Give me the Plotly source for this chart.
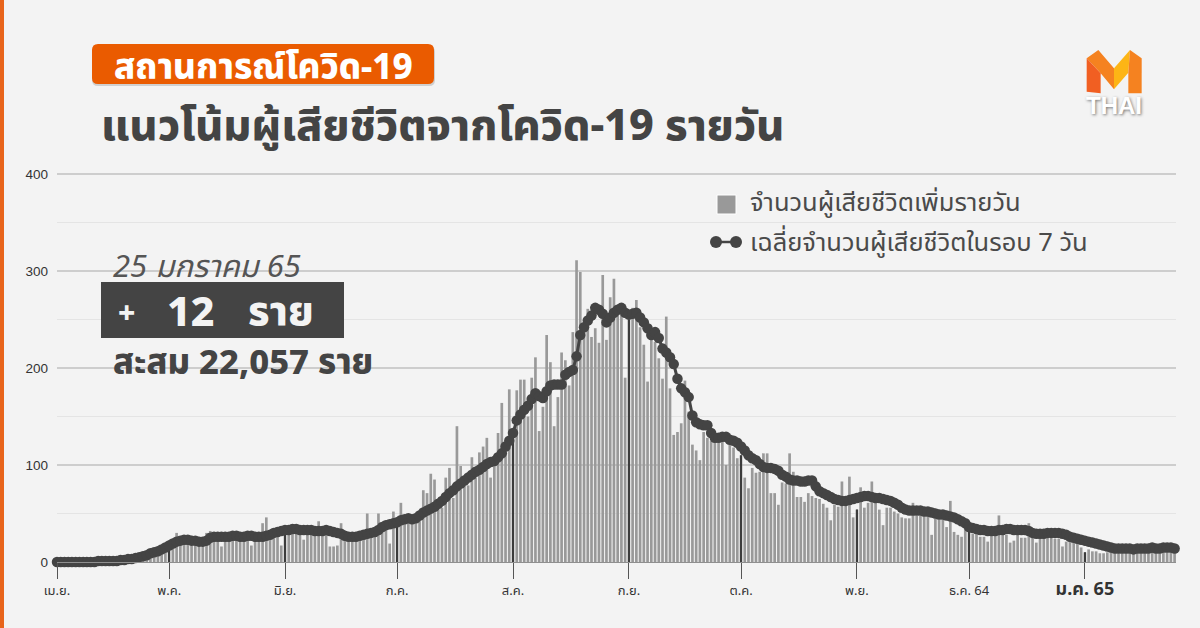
import pandas as pd
import plotly.graph_objects as go

start_date = "2021-04-01"
# daily deaths, month by month
deaths_apr = [0,0,0,0,0,0,1,0,0,0,1,1,0,0,1,1,1,2,1,3,4,3,5,6,8,7,11,10,15,12]
deaths_may = [22,18,30,20,21,25,27,26,22,19,30,32,24,25,16,28,27,31,26,26,25,27,17,25,26,40,46,28,29,26,17]
deaths_jun = [33,30,32,30,30,23,31,32,30,42,32,30,16,16,17,40,24,25,24,26,28,30,50,30,32,50,35,40,19,52]
deaths_jul = [41,61,45,45,44,46,47,74,71,91,85,62,56,87,97,66,140,99,79,79,108,87,113,119,128,87,105,133,164,115,178]
deaths_aug = [130,177,188,188,150,190,211,135,160,234,206,140,170,216,208,182,237,311,299,247,261,232,241,226,296,229,273,292,255,255,190]
deaths_sep = [250,262,270,242,224,186,234,227,210,189,253,179,131,134,143,187,155,121,115,105,134,128,125,124,124,125,100,121,118,107]
deaths_oct = [110,87,76,97,92,93,112,112,71,71,59,82,81,112,93,67,67,62,71,68,66,65,60,56,43,59,57,83,62,88,46]
deaths_nov = [54,77,56,61,83,62,54,38,56,56,52,50,46,45,45,61,48,48,48,48,28,45,44,44,36,63,31,28,26,34]
deaths_dec = [34,29,29,26,26,21,27,28,48,28,28,20,22,28,25,25,40,25,20,26,26,26,25,24,24,16,21,24,20,20,15]
deaths_jan = [10,13,11,11,9,9,10,12,11,13,14,15,16,13,14,13,15,17,14,13,15,16,14,15,12]

# 7-day average, month by month
avg_apr = [0,0,0,0,0,0,0,0,0,0,0,1,1,1,1,1,1,2,2,3,3,4,5,6,7,9,10,11,13,15]
avg_may = [17,19,21,22,23,23,22,22,21,21,22,25,26,26,26,26,26,27,27,26,26,27,27,26,26,26,27,28,30,31,32]
avg_jun = [33,33,34,34,33,33,33,33,32,32,32,33,32,31,30,29,27,26,26,26,27,28,29,30,31,33,36,38,39,40]
avg_jul = [41,43,44,45,44,45,48,51,53,55,57,60,63,67,71,74,78,81,84,87,90,93,95,98,101,103,104,108,112,119,125]
avg_aug = [133,146,152,157,161,168,174,171,169,176,182,183,183,183,193,196,198,212,234,242,249,254,262,260,256,247,252,257,260,262,257]
avg_sep = [255,256,257,252,247,241,234,237,231,220,216,211,204,189,179,175,170,151,144,142,141,141,133,128,128,129,129,126,125,123]
avg_oct = [119,115,110,107,105,101,98,97,97,96,94,90,88,85,84,84,83,83,84,84,78,73,71,69,67,65,64,63,63,64,65]
avg_nov = [66,67,68,68,67,66,66,65,64,63,61,59,56,54,53,53,53,53,52,52,51,50,49,49,48,47,46,44,42,40]
avg_dec = [36,35,34,33,33,32,32,32,33,33,34,34,33,33,33,33,32,30,29,29,29,30,30,30,30,29,28,26,25,24,23]
avg_jan = [22,21,20,19,18,17,16,15,14,14,14,14,14,13,14,14,14,14,15,14,14,15,15,15,14]

deaths = deaths_apr + deaths_may + deaths_jun + deaths_jul + deaths_aug + deaths_sep + deaths_oct + deaths_nov + deaths_dec + deaths_jan
avg7 = avg_apr + avg_may + avg_jun + avg_jul + avg_aug + avg_sep + avg_oct + avg_nov + avg_dec + avg_jan
dates = pd.date_range(start_date, periods=len(deaths), freq="D")
assert len(deaths) == 300 and len(avg7) == 300

month_starts = ["2021-04-01","2021-05-01","2021-06-01","2021-07-01","2021-08-01","2021-09-01","2021-10-01","2021-11-01","2021-12-01","2022-01-01"]
month_labels = ["เม.ย.","พ.ค.","มิ.ย.","ก.ค.","ส.ค.","ก.ย.","ต.ค.","พ.ย.","ธ.ค. 64","<b style='font-size:18px'>ม.ค. 65</b>"]
y_ticks = [0,100,200,300,400]

title_tag = "สถานการณ์โควิด-19"
title_main = "แนวโน้มผู้เสียชีวิตจากโควิด-19 รายวัน"
legend_bar = "จำนวนผู้เสียชีวิตเพิ่มรายวัน"
legend_line = "เฉลี่ยจำนวนผู้เสียชีวิตในรอบ 7 วัน"
date_label = "25 มกราคม 65"
cum_label = "สะสม 22,057 ราย"

W, H = 1200, 628
THAI = "Noto Sans, Noto Sans Thai, Loma, Garuda, sans-serif"
DARK = "#444444"
def X(x): return x / W
def Y(y): return 1 - y / H

ser = pd.Series(deaths, index=dates)
tick_bars = ser.loc[pd.to_datetime(month_starts)]

fig = go.Figure()
fig.add_bar(x=dates, y=deaths, marker=dict(color="#999999", line_width=0), width=62000000, name=legend_bar)
fig.add_bar(x=tick_bars.index, y=tick_bars.values, marker=dict(color="#3c3c3c", line_width=0), width=30000000, name="month")
fig.add_scatter(x=dates, y=avg7, mode="lines+markers", line=dict(color=DARK, width=3),
                marker=dict(color=DARK, size=10.5), cliponaxis=False, name=legend_line)

def poly(pts, color):
    path = "M " + " L ".join(f"{X(a)},{Y(b)}" for a, b in pts) + " Z"
    return dict(type="path", xref="paper", yref="paper", path=path, fillcolor=color, line_width=0, layer="above")

def rect(x0, y0, x1, y1, color, **kw):
    return dict(type="rect", xref="paper", yref="paper", x0=X(x0), x1=X(x1), y0=Y(y1), y1=Y(y0),
                fillcolor=color, line_width=kw.get("lw", 0), line_color=kw.get("lc", color), layer="above")

def rrect(x0, y0, x1, y1, r, color):
    path = (f"M {X(x0+r)},{Y(y0)} L {X(x1-r)},{Y(y0)} Q {X(x1)},{Y(y0)} {X(x1)},{Y(y0+r)} "
            f"L {X(x1)},{Y(y1-r)} Q {X(x1)},{Y(y1)} {X(x1-r)},{Y(y1)} L {X(x0+r)},{Y(y1)} "
            f"Q {X(x0)},{Y(y1)} {X(x0)},{Y(y1-r)} L {X(x0)},{Y(y0+r)} Q {X(x0)},{Y(y0)} {X(x0+r)},{Y(y0)} Z")
    return dict(type="path", xref="paper", yref="paper", path=path, fillcolor=color, line_width=0, layer="above")

def circle(cx, cy, r, color):
    return dict(type="circle", xref="paper", yref="paper", x0=X(cx-r), x1=X(cx+r), y0=Y(cy+r), y1=Y(cy-r),
                fillcolor=color, line_width=0, layer="above")

# logo geometry from crop coordinates
def L(a, b): return (680 + a / 3, 30 + b / 3)

shapes = [
    rect(0, 0, 4, 628, "#e8641b"),
    rrect(92, 46, 435, 86, 6, "#cfcfcf"),
    rrect(92, 44, 434, 84, 6, "#ea5b00"),
    rect(101, 282, 344, 338, DARK),
    rect(717, 195, 736, 214, "#999999", lw=1, lc="#ffffff"),
    dict(type="line", xref="paper", yref="paper", x0=X(716), x1=X(736), y0=Y(242), y1=Y(242),
         line=dict(color=DARK, width=2.5), layer="above"),
    circle(716, 242, 6, DARK), circle(736, 242, 6, DARK),
    poly([L(1220,85),L(1255,60),L(1302,115),L(1302,178),L(1262,130)], "#f58220"),
    poly([L(1220,85),L(1262,130),L(1262,190),L(1220,185)], "#f15f22"),
    poly([L(1350,60),L(1302,115),L(1302,178),L(1345,128)], "#fdb515"),
    poly([L(1350,60),L(1385,85),L(1385,190),L(1345,190),L(1345,128)], "#f58220"),
]

def ann(x, y, text, size, color=DARK, anchor="left", style="normal", weight="normal", shadow=None, fam=THAI):
    f = dict(size=size, color=color, family=fam, style=style, weight=weight)
    if shadow: f["shadow"] = shadow
    return dict(xref="paper", yref="paper", x=X(x), y=Y(y), text=text, showarrow=False,
                xanchor=anchor, yanchor="middle", font=f)

annotations = [
    ann(263, 65, title_tag, 35, "#ffffff", "center", weight=800),
    ann(99, 123, title_main, 43, DARK, weight=800),
    ann(748, 201, legend_bar, 25.5, "#4a4a4a"),
    ann(748, 241, legend_line, 25.5, "#4a4a4a"),
    ann(111, 265, date_label, 31, "#555555", style="italic"),
    ann(126, 311, "+", 30, "#f3f3f3", "center", weight=800),
    ann(190, 310, "12", 41, "#f3f3f3", "center", weight=800),
    ann(281, 309, "ราย", 41, "#f3f3f3", "center", weight=800),
    ann(111, 360, cum_label, 34.5, DARK, weight=800),
    ann(1114, 106, "THAI", 24, "#ffffff", "center", weight="bold", shadow="1px 1px 3px #777777", fam="Liberation Sans"),
]

fig.update_layout(
    width=W, height=H, margin=dict(l=0, r=0, t=0, b=0, autoexpand=False),
    paper_bgcolor="#f3f3f3", plot_bgcolor="#f3f3f3",
    barmode="overlay", showlegend=False,
    font=dict(family=THAI, color="#333333", size=13),
    shapes=shapes, annotations=annotations,
    xaxis=dict(domain=[57/W, 1176/W], type="date", range=["2021-04-01", "2022-01-25 09:00"],
               tickmode="array", tickvals=month_starts, ticktext=month_labels,
               ticks="outside", ticklen=16, tickwidth=1, tickcolor="#555555",
               showgrid=False, showline=True, linecolor="#8f8f8f", linewidth=1,
               tickfont=dict(size=13, color="#333333"), fixedrange=True),
    yaxis=dict(domain=[1-562/H, 1-172.06/H], range=[0, 402], tickmode="array", tickvals=y_ticks,
               showgrid=True, gridcolor="#cdcdcd", gridwidth=1.5, zeroline=False,
               minor=dict(dtick=50, showgrid=True, gridcolor="#e4e4e4", gridwidth=1),
               ticklabelstandoff=8,
               tickfont=dict(size=13.5, color="#333333", family="Liberation Sans"), fixedrange=True),
)

fig.write_html("out.html", config=dict(displayModeBar=False),
               post_script="document.body.style.margin='0';document.body.style.background='#f3f3f3';")
